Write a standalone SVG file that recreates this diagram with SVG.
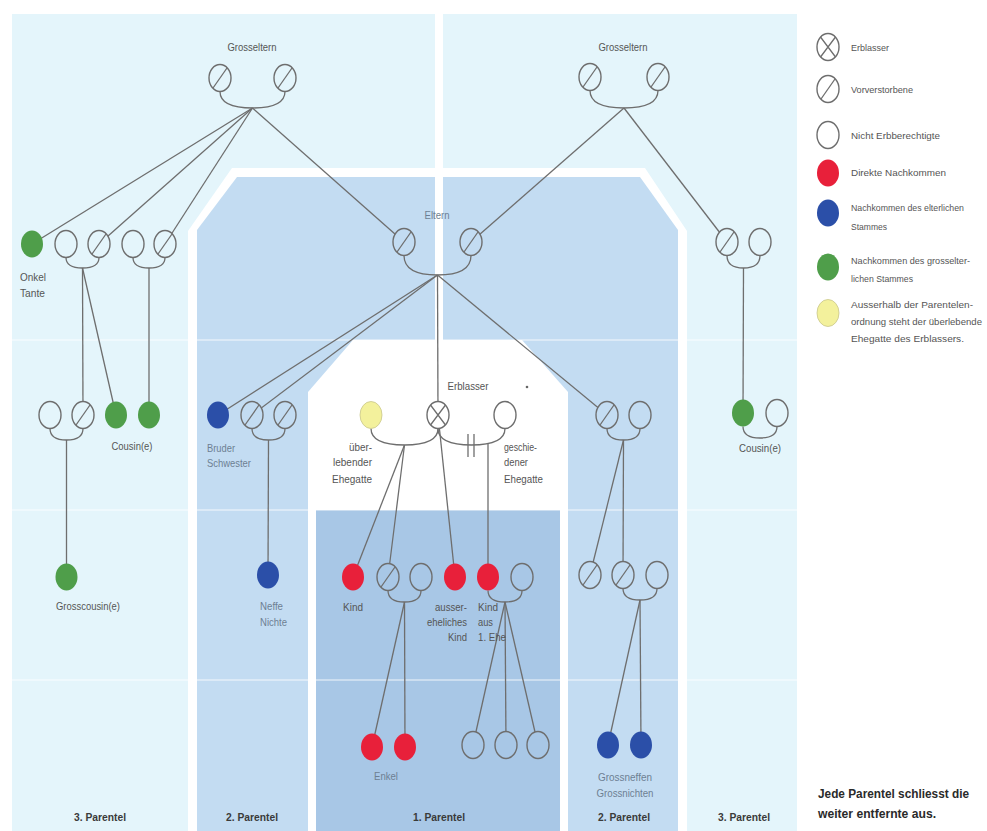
<svg xmlns="http://www.w3.org/2000/svg" width="987" height="831" viewBox="0 0 987 831">
<defs>
<style>
.t{font-family:"Liberation Sans",Arial,sans-serif;font-size:11px;fill:#555}
.tb{fill:#6d7f92}
.lg{font-size:9.8px;fill:#555}
.b{font-family:"Liberation Sans",Arial,sans-serif;font-weight:bold;font-size:11.5px;fill:#3a3a3a}
.big{font-family:"Liberation Sans",Arial,sans-serif;font-weight:bold;font-size:12px;fill:#2a2a2a}
.c{stroke:#6e6e6e;stroke-width:1.4}
.ln{stroke:#6e6e6e;stroke-width:1.3;fill:none}
.gl{stroke:#ffffff;stroke-opacity:0.55;stroke-width:1.5}
</style>
<ellipse id="e" rx="11" ry="13.5"/>
<path id="s" d="M-7,10 L7,-10"/>
<path id="x" d="M-7.5,-10 L7.5,10 M-7.5,10 L7.5,-10"/>
</defs>
<rect width="987" height="831" fill="#ffffff"/>
<g id="background">
<rect x="12" y="14" width="785" height="817" fill="#e4f5fb"/>
<polygon points="188,231 232,168 645,168 687,231 687,831 188,831" fill="#ffffff"/>
<polygon points="197,230 237,177 640,177 678,230 678,831 197,831" fill="#c3dcf2"/>
<rect x="435" y="14" width="8" height="326" fill="#ffffff"/>
<polygon points="308,392 353,340 522,340 568,392 568,831 308,831" fill="#ffffff"/>
<rect x="316" y="510" width="244" height="321" fill="#a8c7e6"/>
<line class="gl" x1="12" y1="340" x2="797" y2="340"/>
<line class="gl" x1="12" y1="510" x2="797" y2="510"/>
<line class="gl" x1="12" y1="680" x2="797" y2="680"/>
</g>
<g id="connectors" class="ln">
<path d="M220,91.5 Q220,108 252.5,108 Q285,108 285,91.5"/>
<path d="M590,90.5 Q590,108 624,108 Q658,108 658,90.5"/>
<path d="M66,257.5 Q66,268 82.5,268 Q99,268 99,257.5"/>
<path d="M133,257.5 Q133,268 149,268 Q165,268 165,257.5"/>
<path d="M50,428.5 Q50,440 66.5,440 Q83,440 83,428.5"/>
<path d="M404,255.5 Q404,275 437.5,275 Q471,275 471,255.5"/>
<path d="M252,428.5 Q252,440 268.5,440 Q285,440 285,428.5"/>
<path d="M607,428.5 Q607,440 623.5,440 Q640,440 640,428.5"/>
<path d="M623,588.5 Q623,600 640,600 Q657,600 657,588.5"/>
<path d="M727,255.5 Q727,268 743.5,268 Q760,268 760,255.5"/>
<path d="M743,426.5 Q743,438 760,438 Q777,438 777,426.5"/>
<path d="M371,428.5 Q371,445 404.5,445 Q438,445 438,428.5"/>
<path d="M438,428.5 Q438,445 471.5,445 Q505,445 505,428.5"/>
<path d="M388,590.5 Q388,602 404.5,602 Q421,602 421,590.5"/>
<path d="M488,590.5 Q488,602 505,602 Q522,602 522,590.5"/>
<line x1="468" y1="434" x2="468" y2="457"/>
<line x1="474" y1="434" x2="474" y2="457"/>
<line x1="252.5" y1="108" x2="32" y2="244"/>
<line x1="252.5" y1="108" x2="99" y2="244"/>
<line x1="252.5" y1="108" x2="165" y2="244"/>
<line x1="252.5" y1="108" x2="404" y2="242"/>
<line x1="624" y1="108" x2="471" y2="242"/>
<line x1="624" y1="108" x2="727" y2="242"/>
<line x1="82.5" y1="268" x2="83" y2="415"/>
<line x1="82.5" y1="268" x2="116" y2="415"/>
<line x1="149" y1="268" x2="149" y2="415"/>
<line x1="66.5" y1="440" x2="66.5" y2="577"/>
<line x1="743.5" y1="268" x2="743" y2="413"/>
<line x1="437.5" y1="275" x2="218" y2="415"/>
<line x1="437.5" y1="275" x2="252" y2="415"/>
<line x1="437.5" y1="275" x2="438" y2="415"/>
<line x1="437.5" y1="275" x2="607" y2="415"/>
<line x1="268.5" y1="440" x2="268" y2="575"/>
<line x1="623.5" y1="440" x2="590" y2="575"/>
<line x1="623.5" y1="440" x2="623" y2="575"/>
<line x1="640" y1="600" x2="608" y2="745"/>
<line x1="640" y1="600" x2="641" y2="745"/>
<line x1="404.5" y1="445" x2="353" y2="577"/>
<line x1="404.5" y1="445" x2="388" y2="577"/>
<line x1="438" y1="415" x2="455" y2="577"/>
<line x1="488" y1="443.6" x2="488" y2="577"/>
<line x1="404.5" y1="602" x2="372" y2="747"/>
<line x1="404.5" y1="602" x2="405" y2="747"/>
<line x1="505" y1="602" x2="473" y2="745"/>
<line x1="505" y1="602" x2="506" y2="745"/>
<line x1="505" y1="602" x2="538" y2="745"/>
</g>
<g id="n-grosseltern-l">
<use href="#e" x="220" y="78" class="c" fill="#e4f5fb"/><use href="#s" x="220" y="78" class="ln"/>
<use href="#e" x="285" y="78" class="c" fill="#e4f5fb"/><use href="#s" x="285" y="78" class="ln"/>
<text class="t" x="252" y="51" text-anchor="middle" textLength="49" lengthAdjust="spacingAndGlyphs">Grosseltern</text>
</g>
<g id="n-grosseltern-r">
<use href="#e" x="590" y="77" class="c" fill="#e4f5fb"/><use href="#s" x="590" y="77" class="ln"/>
<use href="#e" x="658" y="77" class="c" fill="#e4f5fb"/><use href="#s" x="658" y="77" class="ln"/>
<text class="t" x="623" y="51" text-anchor="middle" textLength="49" lengthAdjust="spacingAndGlyphs">Grosseltern</text>
</g>
<g id="n-onkel">
<use href="#e" x="32" y="244" fill="#4f9e4a"/>
<text class="t" x="20" y="281" textLength="26" lengthAdjust="spacingAndGlyphs">Onkel</text>
<text class="t" x="20" y="297" textLength="25" lengthAdjust="spacingAndGlyphs">Tante</text>
</g>
<g id="n-onkel-couple1">
<use href="#e" x="66" y="244" class="c" fill="#e4f5fb"/>
<use href="#e" x="99" y="244" class="c" fill="#e4f5fb"/><use href="#s" x="99" y="244" class="ln"/>
</g>
<g id="n-onkel-couple2">
<use href="#e" x="133" y="244" class="c" fill="#e4f5fb"/>
<use href="#e" x="165" y="244" class="c" fill="#e4f5fb"/><use href="#s" x="165" y="244" class="ln"/>
</g>
<g id="n-cousin-l">
<use href="#e" x="50" y="415" class="c" fill="#e4f5fb"/>
<use href="#e" x="83" y="415" class="c" fill="#e4f5fb"/><use href="#s" x="83" y="415" class="ln"/>
<use href="#e" x="116" y="415" fill="#4f9e4a"/>
<use href="#e" x="149" y="415" fill="#4f9e4a"/>
<text class="t" x="132" y="450" text-anchor="middle" textLength="41" lengthAdjust="spacingAndGlyphs">Cousin(e)</text>
</g>
<g id="n-grosscousin">
<use href="#e" x="66.5" y="577" fill="#4f9e4a"/>
<text class="t" x="88" y="610" text-anchor="middle" textLength="64" lengthAdjust="spacingAndGlyphs">Grosscousin(e)</text>
</g>
<g id="n-eltern">
<use href="#e" x="404" y="242" class="c" fill="#c3dcf2"/><use href="#s" x="404" y="242" class="ln"/>
<use href="#e" x="471" y="242" class="c" fill="#c3dcf2"/><use href="#s" x="471" y="242" class="ln"/>
<text class="t tb" x="437" y="219" text-anchor="middle" textLength="25" lengthAdjust="spacingAndGlyphs">Eltern</text>
</g>
<g id="n-bruder">
<use href="#e" x="218" y="415" fill="#2b4fa8"/>
<text class="t tb" x="207" y="452" textLength="28" lengthAdjust="spacingAndGlyphs">Bruder</text>
<text class="t tb" x="207" y="467" textLength="44" lengthAdjust="spacingAndGlyphs">Schwester</text>
</g>
<g id="n-bruder-couple">
<use href="#e" x="252" y="415" class="c" fill="#c3dcf2"/><use href="#s" x="252" y="415" class="ln"/>
<use href="#e" x="285" y="415" class="c" fill="#c3dcf2"/><use href="#s" x="285" y="415" class="ln"/>
</g>
<g id="n-neffe">
<use href="#e" x="268" y="575" fill="#2b4fa8"/>
<text class="t tb" x="260" y="610" textLength="23" lengthAdjust="spacingAndGlyphs">Neffe</text>
<text class="t tb" x="260" y="626" textLength="27" lengthAdjust="spacingAndGlyphs">Nichte</text>
</g>
<g id="n-geschwister-r">
<use href="#e" x="607" y="415" class="c" fill="#c3dcf2"/><use href="#s" x="607" y="415" class="ln"/>
<use href="#e" x="640" y="415" class="c" fill="#c3dcf2"/>
</g>
<g id="n-neffen-r">
<use href="#e" x="590" y="575" class="c" fill="#c3dcf2"/><use href="#s" x="590" y="575" class="ln"/>
<use href="#e" x="623" y="575" class="c" fill="#c3dcf2"/><use href="#s" x="623" y="575" class="ln"/>
<use href="#e" x="657" y="575" class="c" fill="#c3dcf2"/>
</g>
<g id="n-grossneffen">
<use href="#e" x="608" y="745" fill="#2b4fa8"/>
<use href="#e" x="641" y="745" fill="#2b4fa8"/>
<text class="t tb" x="625" y="781" text-anchor="middle" textLength="54" lengthAdjust="spacingAndGlyphs">Grossneffen</text>
<text class="t tb" x="625" y="797" text-anchor="middle" textLength="57" lengthAdjust="spacingAndGlyphs">Grossnichten</text>
</g>
<g id="n-onkel-r">
<use href="#e" x="727" y="242" class="c" fill="#e4f5fb"/><use href="#s" x="727" y="242" class="ln"/>
<use href="#e" x="760" y="242" class="c" fill="#e4f5fb"/>
</g>
<g id="n-cousin-r">
<use href="#e" x="743" y="413" fill="#4f9e4a"/>
<use href="#e" x="777" y="413" class="c" fill="#e4f5fb"/>
<text class="t" x="760" y="452" text-anchor="middle" textLength="42" lengthAdjust="spacingAndGlyphs">Cousin(e)</text>
</g>
<g id="n-ehegatte">
<use href="#e" x="371" y="415" fill="#f3f19c" stroke="#c9c78a" stroke-width="0.8"/>
<text class="t" x="372" y="451" text-anchor="end" fill="#777" textLength="23" lengthAdjust="spacingAndGlyphs">über-</text>
<text class="t" x="372" y="466" text-anchor="end" textLength="39" lengthAdjust="spacingAndGlyphs">lebender</text>
<text class="t" x="372" y="483" text-anchor="end" textLength="40" lengthAdjust="spacingAndGlyphs">Ehegatte</text>
</g>
<g id="n-erblasser">
<use href="#e" x="438" y="415" class="c" fill="#ffffff"/><use href="#x" x="438" y="415" class="ln"/>
<text class="t" x="468" y="390" text-anchor="middle" textLength="41" lengthAdjust="spacingAndGlyphs">Erblasser</text>
<circle cx="527" cy="387" r="1.3" fill="#666"/>
</g>
<g id="n-geschieden">
<use href="#e" x="505" y="415" class="c" fill="#ffffff"/>
<text class="t" x="504" y="451" fill="#777" textLength="33" lengthAdjust="spacingAndGlyphs">geschie-</text>
<text class="t" x="504" y="466" fill="#777" textLength="24" lengthAdjust="spacingAndGlyphs">dener</text>
<text class="t" x="504" y="483" textLength="39" lengthAdjust="spacingAndGlyphs">Ehegatte</text>
</g>
<g id="n-kind">
<use href="#e" x="353" y="577" fill="#e8203a"/>
<text class="t" x="353" y="611" text-anchor="middle" textLength="20" lengthAdjust="spacingAndGlyphs">Kind</text>
</g>
<g id="n-kind-couple">
<use href="#e" x="388" y="577" class="c" fill="#a8c7e6"/><use href="#s" x="388" y="577" class="ln"/>
<use href="#e" x="421" y="577" class="c" fill="#a8c7e6"/>
</g>
<g id="n-ausserehelich">
<use href="#e" x="455" y="577" fill="#e8203a"/>
<text class="t" x="467" y="611" text-anchor="end" textLength="32" lengthAdjust="spacingAndGlyphs">ausser-</text>
<text class="t" x="467" y="626" text-anchor="end" textLength="40" lengthAdjust="spacingAndGlyphs">eheliches</text>
<text class="t" x="467" y="641" text-anchor="end" textLength="19" lengthAdjust="spacingAndGlyphs">Kind</text>
</g>
<g id="n-kind-ehe1">
<use href="#e" x="488" y="577" fill="#e8203a"/>
<use href="#e" x="522" y="577" class="c" fill="#a8c7e6"/>
<text class="t" x="478" y="611" textLength="20" lengthAdjust="spacingAndGlyphs">Kind</text>
<text class="t" x="478" y="626" textLength="15" lengthAdjust="spacingAndGlyphs">aus</text>
<text class="t" x="478" y="641" textLength="28" lengthAdjust="spacingAndGlyphs">1. Ehe</text>
</g>
<g id="n-enkel">
<use href="#e" x="372" y="747" fill="#e8203a"/>
<use href="#e" x="405" y="747" fill="#e8203a"/>
<text class="t tb" x="386" y="780" text-anchor="middle" textLength="24" lengthAdjust="spacingAndGlyphs">Enkel</text>
</g>
<g id="n-enkel-ehe1">
<use href="#e" x="473" y="745" class="c" fill="#a8c7e6"/>
<use href="#e" x="506" y="745" class="c" fill="#a8c7e6"/>
<use href="#e" x="538" y="745" class="c" fill="#a8c7e6"/>
</g>
<g id="parentel-labels">
<text class="b" x="100" y="821" text-anchor="middle" textLength="52" lengthAdjust="spacingAndGlyphs">3. Parentel</text>
<text class="b" x="252" y="821" text-anchor="middle" textLength="52" lengthAdjust="spacingAndGlyphs">2. Parentel</text>
<text class="b" x="439" y="821" text-anchor="middle" textLength="52" lengthAdjust="spacingAndGlyphs">1. Parentel</text>
<text class="b" x="624" y="821" text-anchor="middle" textLength="52" lengthAdjust="spacingAndGlyphs">2. Parentel</text>
<text class="b" x="744" y="821" text-anchor="middle" fill="#555" textLength="52" lengthAdjust="spacingAndGlyphs">3. Parentel</text>
</g>
<g id="legend">
<use href="#e" x="828" y="47" class="c" fill="#ffffff"/><use href="#x" x="828" y="47" class="ln"/>
<text class="t lg" x="851" y="51" textLength="38" lengthAdjust="spacingAndGlyphs">Erblasser</text>
<use href="#e" x="828" y="89" class="c" fill="#ffffff"/><use href="#s" x="828" y="89" class="ln"/>
<text class="t lg" x="851" y="93" textLength="62" lengthAdjust="spacingAndGlyphs">Vorverstorbene</text>
<use href="#e" x="828" y="135" class="c" fill="#ffffff"/>
<text class="t lg" x="851" y="139" textLength="89" lengthAdjust="spacingAndGlyphs">Nicht Erbberechtigte</text>
<use href="#e" x="828" y="173" fill="#e8203a"/>
<text class="t lg" x="851" y="176" textLength="95" lengthAdjust="spacingAndGlyphs">Direkte Nachkommen</text>
<use href="#e" x="828" y="213" fill="#2b4fa8"/>
<text class="t lg" x="851" y="211" textLength="113" lengthAdjust="spacingAndGlyphs">Nachkommen des elterlichen</text>
<text class="t lg" x="851" y="230" textLength="36" lengthAdjust="spacingAndGlyphs">Stammes</text>
<use href="#e" x="828" y="267" fill="#4f9e4a"/>
<text class="t lg" x="851" y="264" textLength="119" lengthAdjust="spacingAndGlyphs">Nachkommen des grosselter-</text>
<text class="t lg" x="851" y="282" textLength="62" lengthAdjust="spacingAndGlyphs">lichen Stammes</text>
<use href="#e" x="828" y="313" fill="#f3f19c" stroke="#c9c78a" stroke-width="0.8"/>
<text class="t lg" x="851" y="308" textLength="122" lengthAdjust="spacingAndGlyphs">Ausserhalb der Parentelen-</text>
<text class="t lg" x="851" y="325" textLength="131" lengthAdjust="spacingAndGlyphs">ordnung steht der überlebende</text>
<text class="t lg" x="851" y="342" textLength="113" lengthAdjust="spacingAndGlyphs">Ehegatte des Erblassers.</text>
</g>
<g id="note">
<text class="big" x="818" y="798" textLength="151" lengthAdjust="spacingAndGlyphs">Jede Parentel schliesst die</text>
<text class="big" x="818" y="818" textLength="118" lengthAdjust="spacingAndGlyphs">weiter entfernte aus.</text>
</g>
</svg>
